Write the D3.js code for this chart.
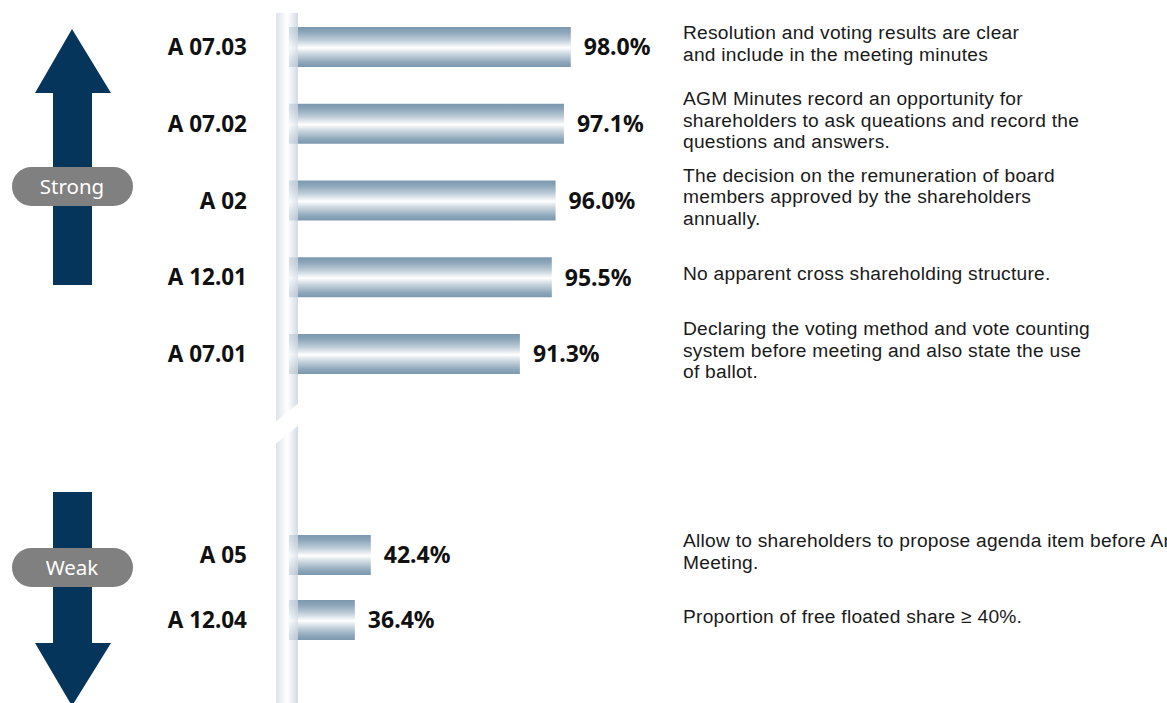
<!DOCTYPE html>
<html>
<head>
<meta charset="utf-8">
<script src="https://cdn.jsdelivr.net/npm/d3@7/dist/d3.min.js"></script>
<style>
  html, body { margin: 0; padding: 0; background: #ffffff; }
  svg { display: block; }
  text { font-family: "Noto Sans", "Open Sans", sans-serif; }
  text.note { font-family: "Liberation Sans", Arial, sans-serif; letter-spacing: 0.25px; }
</style>
</head>
<body>
<svg id="chart" width="1167" height="703"></svg>
<script>
// Criteria codes, percentages and descriptions (strong group, then weak group)
const strongCodes = ["A 07.03", "A 07.02", "A 02", "A 12.01", "A 07.01"];
const strongValues = [98.0, 97.1, 96.0, 95.5, 91.3];
const strongNotes = [
  ["Resolution and voting results are clear", "and include in the meeting minutes"],
  ["AGM Minutes record an opportunity for", "shareholders to ask queations and record the", "questions and answers."],
  ["The decision on the remuneration of board", "members approved by the shareholders", "annually."],
  ["No apparent cross shareholding structure."],
  ["Declaring the voting method and vote counting", "system before meeting and also state the use", "of ballot."]
];
const weakCodes = ["A 05", "A 12.04"];
const weakValues = [42.4, 36.4];
const weakNotes = [
  ["Allow to shareholders to propose agenda item before Annual General", "Meeting."],
  ["Proportion of free floated share \u2265 40%."]
];
const groupLabels = ["Strong", "Weak"];

const svg = d3.select("#chart");
const defs = svg.append("defs");

// Metallic gradient for the bars (vertical)
const barGrad = defs.append("linearGradient")
  .attr("id", "barGrad").attr("x1", 0).attr("y1", 0).attr("x2", 0).attr("y2", 1);
[[0, "#7b98ae"], [0.12, "#8aa4b8"], [0.32, "#bccbd7"], [0.52, "#ffffff"],
 [0.68, "#c9d5de"], [0.88, "#8fa8bb"], [1, "#7b98ae"]]
  .forEach(([o, c]) => barGrad.append("stop").attr("offset", o).attr("stop-color", c));

// Light cylinder gradient for the vertical axis (horizontal)
const axisGrad = defs.append("linearGradient")
  .attr("id", "axisGrad").attr("x1", 0).attr("y1", 0).attr("x2", 1).attr("y2", 0);
[[0, "#dde3ea"], [0.5, "#ffffff"], [0.62, "#f6f8fa"], [1, "#d3dae3"]]
  .forEach(([o, c]) => axisGrad.append("stop").attr("offset", o).attr("stop-color", c));

// Broken value axis: a compressed low range and a stretched high range
const x0 = 298;
const x = d3.scaleLinear().domain([15, 50, 90, 100]).range([x0, x0 + 93, x0 + 212, x0 + 288]);

const yStrong = d3.scalePoint().domain(strongCodes).range([47, 354]);
const yWeak = d3.scalePoint().domain(weakCodes).range([555, 620]);
const barH = 40;

// Vertical axis with a diagonal break
svg.append("rect").attr("x", 276).attr("y", 13).attr("width", 22).attr("height", 703 - 13)
  .attr("fill", "url(#axisGrad)");
svg.append("path")
  .attr("d", "M274,423 L300,402 L300,424 L274,445 Z")
  .attr("fill", "#ffffff");

const rows = strongCodes.map((c, i) => ({ code: c, value: strongValues[i], note: strongNotes[i], y: yStrong(c) }))
  .concat(weakCodes.map((c, i) => ({ code: c, value: weakValues[i], note: weakNotes[i], y: yWeak(c) })));

const row = svg.selectAll("g.row").data(rows).join("g").attr("class", "row");

// faint stub of the bar over the axis
row.append("rect")
  .attr("x", 289).attr("y", d => d.y - barH / 2)
  .attr("width", x0 - 289).attr("height", barH)
  .attr("fill", "url(#barGrad)").attr("opacity", 0.3);

row.append("rect")
  .attr("x", x0).attr("y", d => d.y - barH / 2)
  .attr("width", d => x(d.value) - x0).attr("height", barH)
  .attr("fill", "url(#barGrad)");

row.append("text")
  .attr("x", d => x(d.value) + 13).attr("y", d => d.y)
  .attr("dy", "0.36em")
  .attr("font-size", 23).attr("font-weight", 700).attr("fill", "#111")
  .text(d => d.value.toFixed(1) + "%");

row.append("text")
  .attr("x", 247).attr("y", d => d.y)
  .attr("dy", "0.36em").attr("text-anchor", "end")
  .attr("font-size", 22.5).attr("font-weight", 700).attr("fill", "#111")
  .text(d => d.code);

const lineH = 21.5;
row.append("text")
  .attr("class", "note")
  .attr("font-size", 19.2).attr("fill", "#1a1a1a")
  .each(function (d) {
    const t = d3.select(this);
    const top = d.y - 4 - (d.note.length - 1) * lineH / 2;
    d.note.forEach((ln, k) => {
      t.append("tspan").attr("x", 683).attr("y", top + k * lineH).attr("dy", "0.36em").text(ln);
    });
  });

// Direction arrows with group pills
const navy = "#06355c";
svg.append("path")
  .attr("d", "M72,29 L111,93 L92,93 L92,285 L53,285 L53,93 L35,93 Z")
  .attr("fill", navy);
svg.append("path")
  .attr("d", "M53,492 L92,492 L92,643 L111,643 L72,706 L35,643 L53,643 Z")
  .attr("fill", navy);

const pills = [{ label: groupLabels[0], cy: 186.5 }, { label: groupLabels[1], cy: 567.5 }];
const pill = svg.selectAll("g.pill").data(pills).join("g").attr("class", "pill");
pill.append("rect")
  .attr("x", 12).attr("y", d => d.cy - 19.5).attr("width", 121).attr("height", 39)
  .attr("rx", 19.5).attr("fill", "#808080");
pill.append("text")
  .attr("x", 72).attr("y", d => d.cy).attr("dy", "0.36em")
  .attr("text-anchor", "middle").attr("font-size", 20.5).attr("fill", "#ffffff")
  .text(d => d.label);
</script>
</body>
</html>
